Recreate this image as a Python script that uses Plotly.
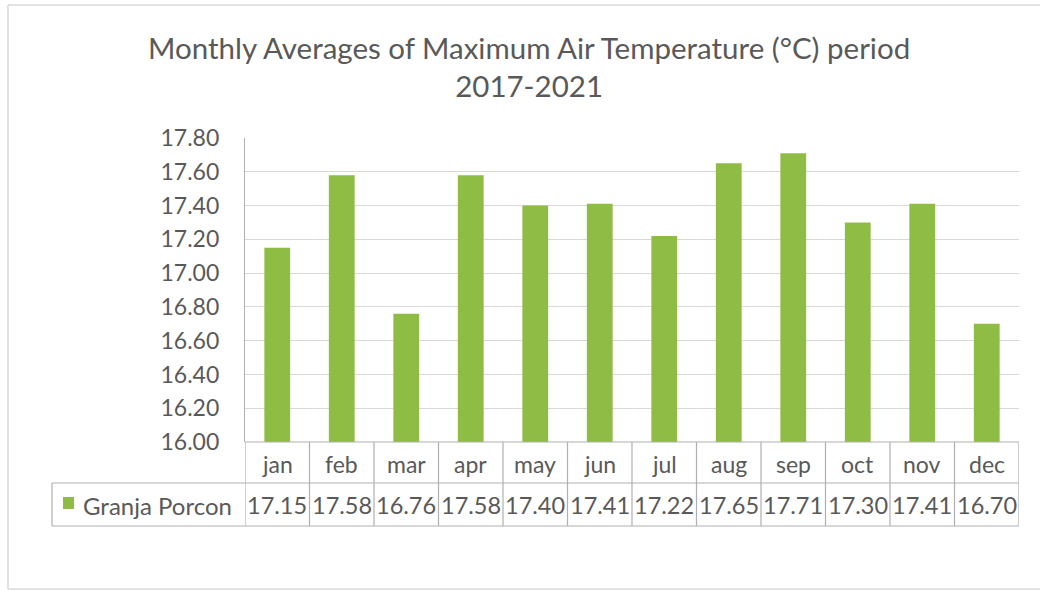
import plotly.graph_objects as go

# ---- data ----
months = ["jan", "feb", "mar", "apr", "may", "jun", "jul", "aug", "sep", "oct", "nov", "dec"]
values = [17.15, 17.58, 16.76, 17.58, 17.40, 17.41, 17.22, 17.65, 17.71, 17.30, 17.41, 16.70]
series_name = "Granja Porcon"
title_text = "Monthly Averages of Maximum Air Temperature (°C) period<br>2017-2021"
y_min, y_max, y_step = 16.0, 17.8, 0.2

W, H = 1040, 591
FONT = "Lato"
TXT = "#595959"
GREEN = "#8FBC45"
LINE = "#b0b0b0"


def px(x):
    return x / W


def py(y):
    return 1 - y / H


plot_left, plot_right = 245, 1019
plot_top, plot_bottom = 138, 442
row1_bottom, row2_bottom = 483, 526
table_left = 52

fig = go.Figure()
fig.add_trace(go.Bar(
    x=list(range(len(months))), y=values, name=series_name,
    marker=dict(color=GREEN, line=dict(width=0)), width=0.4,
    showlegend=False,
))

shapes = []
# outer chart frame
for (x0, y0, x1, y1) in [(8, 5, 1040, 5), (8, 5, 8, 589), (8, 589, 1040, 589)]:
    shapes.append(dict(type="line", xref="paper", yref="paper",
                       x0=px(x0), y0=py(y0), x1=px(x1), y1=py(y1),
                       line=dict(color="#d9d9d9", width=1.5)))
# table horizontal lines
for (x0, y) in [(plot_left, plot_bottom), (table_left, row1_bottom), (table_left, row2_bottom)]:
    shapes.append(dict(type="line", xref="paper", yref="paper",
                       x0=px(x0), y0=py(y), x1=px(plot_right), y1=py(y),
                       line=dict(color=LINE, width=1.2)))
# table vertical lines (category boundaries, in data units)
n = len(months)
for i in range(n + 1):
    shapes.append(dict(type="line", xref="x", yref="paper",
                       x0=i - 0.5, x1=i - 0.5, y0=py(plot_bottom), y1=py(row2_bottom),
                       line=dict(color=LINE, width=1.2)))
shapes.append(dict(type="line", xref="paper", yref="paper",
                   x0=px(table_left), x1=px(table_left), y0=py(row1_bottom), y1=py(row2_bottom),
                   line=dict(color=LINE, width=1.2)))
# legend key
shapes.append(dict(type="rect", xref="paper", yref="paper",
                   x0=px(63), x1=px(74), y0=py(497), y1=py(509),
                   fillcolor=GREEN, line=dict(width=0)))

annotations = []
for i, (m, v) in enumerate(zip(months, values)):
    annotations.append(dict(x=i, xref="x", y=py(464), yref="paper", text=m,
                            showarrow=False, xanchor="center", yanchor="middle",
                            font=dict(family=FONT, size=23, color=TXT)))
    annotations.append(dict(x=i, xref="x", y=py(505), yref="paper", text=f"{v:.2f}",
                            showarrow=False, xanchor="center", yanchor="middle",
                            font=dict(family=FONT, size=23.5, color=TXT)))
annotations.append(dict(x=px(81), xref="paper", y=py(505), yref="paper", text=series_name,
                        showarrow=False, xanchor="left", yanchor="middle",
                        font=dict(family=FONT, size=24, color=TXT)))
annotations.append(dict(x=px(529), xref="paper", y=py(66), yref="paper", text=title_text,
                        showarrow=False, xanchor="center", yanchor="middle",
                        font=dict(family=FONT, size=29.5, color=TXT)))

ticks = [round(y_min + k * y_step, 2) for k in range(int(round((y_max - y_min) / y_step)) + 1)]

fig.update_layout(
    width=W, height=H, margin=dict(l=0, r=0, t=0, b=0, pad=0, autoexpand=False),
    paper_bgcolor="white", plot_bgcolor="white",
    xaxis=dict(domain=[px(plot_left), px(plot_right)], range=[-0.5, n - 0.5],
               showticklabels=False, showgrid=False, zeroline=False, showline=False,
               fixedrange=True, automargin=False),
    yaxis=dict(domain=[py(plot_bottom), py(plot_top)], range=[y_min, y_max],
               tickvals=ticks, ticktext=[f"{t:.2f}" for t in ticks],
               tickfont=dict(family=FONT, size=23, color=TXT),
               showgrid=True, gridcolor="#d9d9d9", gridwidth=1.2,
               showline=True, linecolor=LINE, linewidth=1.2,
               zeroline=False, ticks="", ticklabelstandoff=20, fixedrange=True,
               automargin=False),
    shapes=shapes, annotations=annotations, bargap=0.6,
)

fig.write_html("out.html")
